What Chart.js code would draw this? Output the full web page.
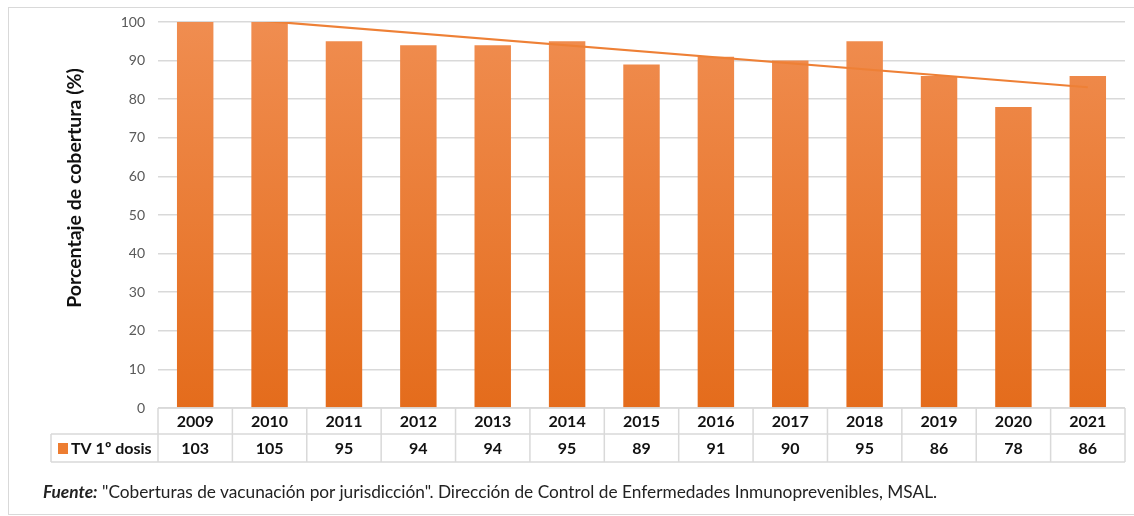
<!DOCTYPE html>
<html>
<head>
<meta charset="utf-8">
<script src="https://cdn.jsdelivr.net/npm/chart.js@4.4.1/dist/chart.umd.min.js"></script>
<style>
  body { margin: 0; background: #fff; }
  #wrap { position: relative; width: 1134px; height: 516px; }
  #frame { position: absolute; left: 8px; top: 7px; width: 1130px; height: 508px; border: 1px solid #d9d9d9; box-sizing: border-box; }
  #fuente { position: absolute; left: 43px; top: 481px; font-family: Lato, sans-serif; font-size: 17.3px; color: #222; white-space: nowrap; }
</style>
</head>
<body>
<div id="wrap">
  <div id="frame"></div>
  <canvas id="coberturaChart" width="1134" height="516"></canvas>
  <div id="fuente"><b><i>Fuente:</i></b> "Coberturas de vacunación por jurisdicción". Dirección de Control de Enfermedades Inmunoprevenibles, MSAL.</div>
</div>
<script>
const years = ['2009', '2010', '2011', '2012', '2013', '2014', '2015', '2016', '2017', '2018', '2019', '2020', '2021'];
const coverage = [103, 105, 95, 94, 94, 95, 89, 91, 90, 95, 86, 78, 86];
// trend line (ends only)
const trend = [101.7, null, null, null, null, null, null, null, null, null, null, null, 83.1];
const yTicks = [0, 10, 20, 30, 40, 50, 60, 70, 80, 90, 100];
const seriesName = 'TV 1º dosis';
const yTitle = 'Porcentaje de cobertura (%)';

const tableFont = 'bold 16px Lato, sans-serif';
const lineColor = '#d9d9d9';

function barGradient(ctx) {
    const area = ctx.chart.chartArea;
    if (!area) return '#ed7d31';
    const g = ctx.chart.ctx.createLinearGradient(0, area.top, 0, area.bottom);
    g.addColorStop(0, '#f08d50');
    g.addColorStop(1, '#e46c1c');
    return g;
}

// draws the data table under the plot + the y title
const dataTable = {
    id: 'dataTable',
    afterDraw(chart) {
        const { ctx, chartArea } = chart;
        const x = chart.scales.x;
        const top = chartArea.bottom, mid = top + 26, bot = mid + 28;
        const legLeft = 51;
        const colW = (chartArea.right - chartArea.left) / years.length;
        ctx.save();
        ctx.strokeStyle = lineColor;
        ctx.lineWidth = 1.5;
        ctx.beginPath();
        ctx.moveTo(chartArea.left, top); ctx.lineTo(chartArea.right, top);
        ctx.moveTo(legLeft, mid); ctx.lineTo(chartArea.right, mid);
        ctx.moveTo(legLeft, bot); ctx.lineTo(chartArea.right, bot);
        ctx.moveTo(legLeft, mid); ctx.lineTo(legLeft, bot);
        for (let i = 0; i <= years.length; i++) {
            const xx = chartArea.left + i * colW;
            ctx.moveTo(xx, top); ctx.lineTo(xx, bot);
        }
        ctx.stroke();

        ctx.font = tableFont;
        ctx.fillStyle = '#111';
        ctx.textAlign = 'center';
        ctx.textBaseline = 'middle';
        years.forEach((yr, i) => {
            const cx = x.getPixelForValue(i);
            ctx.fillText(yr, cx, (top + mid) / 2 + 1);
            ctx.fillText(String(coverage[i]), cx, (mid + bot) / 2 + 1);
        });

        // legend cell
        ctx.fillStyle = '#ed7d31';
        ctx.fillRect(58, mid + 9, 10, 11);
        ctx.fillStyle = '#111';
        ctx.textAlign = 'left';
        ctx.fillText(seriesName, 71, (mid + bot) / 2 + 1);

        // y axis title (sits a bit above the plot centre in the original)
        ctx.translate(75, 188);
        ctx.rotate(-Math.PI / 2);
        ctx.textAlign = 'center';
        ctx.font = 'bold 19.5px Lato, sans-serif';
        ctx.fillText(yTitle, 0, 0);
        ctx.restore();
    }
};

const coberturaChart = new Chart(
    document.getElementById('coberturaChart'),
    {
    type: 'bar',
    data: {
        labels: years,
        datasets: [{
            type: 'line',
            label: 'Tendencia',
            data: trend,
            spanGaps: true,
            borderColor: '#ee8036',
            borderWidth: 2.2,
            pointRadius: 0,
            tension: 0,
            order: 0
        }, {
            label: seriesName,
            data: coverage,
            backgroundColor: barGradient,
            categoryPercentage: 1,
            barPercentage: 0.49,
            order: 1
        }]
    },
    options: {
        responsive: false,
        animation: false,
        layout: {
            padding: { top: 22, right: 9, bottom: 108, left: 0 }
        },
        plugins: {
            legend: { display: false },
            tooltip: { enabled: false }
        },
        scales: {
            x: {
                display: false
            },
            y: {
                min: 0,
                max: 100,
                afterFit: (scale) => { scale.width = 158; },
                afterBuildTicks: (scale) => { scale.ticks = yTicks.map(v => ({ value: v })); },
                grid: { color: lineColor, lineWidth: 1.5, drawTicks: false },
                border: { display: false },
                ticks: {
                    color: '#595959',
                    font: { family: 'Lato, sans-serif', size: 14 },
                    padding: 13
                }
            }
        }
    },
    plugins: [dataTable]
});
</script>
</body>
</html>
